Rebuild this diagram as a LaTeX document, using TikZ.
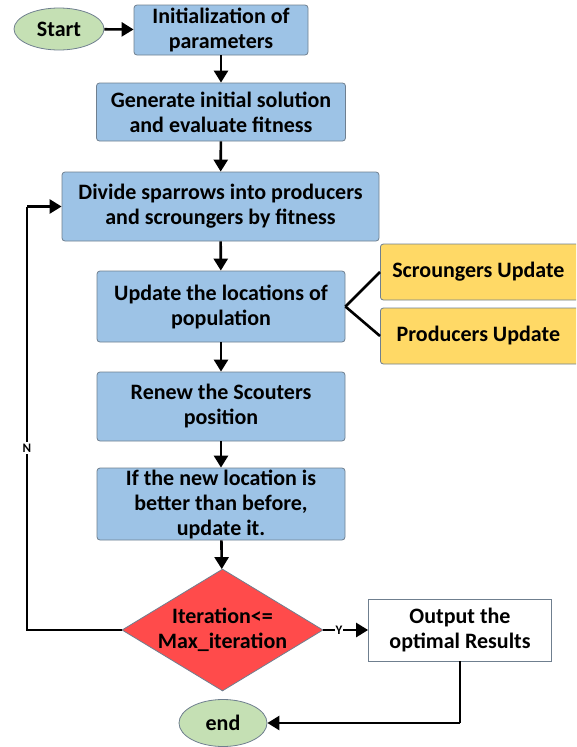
\documentclass[tikz,border=0pt]{standalone}
\usepackage{fontspec}
\setmainfont{Carlito}
\usetikzlibrary{arrows.meta,shapes.geometric}
\definecolor{boxblue}{HTML}{9DC3E6}
\definecolor{boxyellow}{HTML}{FFD966}
\definecolor{dred}{HTML}{FF4B4B}
\definecolor{egreen}{HTML}{C5E0B4}
\definecolor{edgegray}{HTML}{6F7F8F}
\begin{document}
\begin{tikzpicture}[x=1pt,y=-1pt,
  txt/.style={font=\bfseries\fontsize{22}{25}\selectfont, align=center, text=black},
  bbox/.style={txt, draw=edgegray, line width=0.8pt, fill=boxblue, rounded corners=3pt, inner sep=0pt},
  ybox/.style={txt, draw=edgegray, line width=0.8pt, fill=boxyellow, rounded corners=3pt, inner sep=0pt},
  ell/.style={txt, ellipse, draw=edgegray, line width=0.8pt, fill=egreen, inner sep=0pt},
  arr/.style={line width=2.6pt, -{Triangle[length=12pt,width=14pt]}},
  ln/.style={line width=2.6pt},
  lbl/.style={fill=white, inner sep=1.5pt, font=\bfseries\fontsize{13}{14}\selectfont}]
\useasboundingbox (0,0) rectangle (576,747);
\clip (0,0) rectangle (576,747);
\node[ell, minimum width=90pt, minimum height=42pt] (start) at (59,29) {Start};
\node[bbox, minimum width=174pt, minimum height=50pt] (init) at (221,30) {Initialization of\\parameters};
\node[bbox, minimum width=249pt, minimum height=58pt] (gen) at (221,112) {Generate initial solution\\and evaluate fitness};
\node[bbox, minimum width=317pt, minimum height=69pt] (div) at (220.5,206.5) {Divide sparrows into producers\\and scroungers by fitness};
\node[bbox, minimum width=248pt, minimum height=71pt] (upd) at (221,306.5) {Update the locations of\\population};
\node[ybox, minimum width=200pt, minimum height=56pt, anchor=west] (scr) at (380,272) {\hspace*{-4pt}Scroungers Update};
\node[ybox, minimum width=200pt, minimum height=56pt, anchor=west] (prod) at (380,336) {\hspace*{-4pt}Producers Update};
\node[bbox, minimum width=248pt, minimum height=69pt] (ren) at (221,406.5) {Renew the Scouters\\position};
\node[bbox, minimum width=248pt, minimum height=72pt] (ifn) at (221,504) {If the new location is\\better than before,\\update it.};
\node[txt, diamond, draw=edgegray, line width=0.8pt, fill=dred, minimum width=195pt, minimum height=118pt, inner sep=0pt, aspect=1.65] (dec) at (222.5,630) {Iteration<=\\Max\_iteration};
\node[txt, draw=edgegray, line width=0.8pt, fill=white, minimum width=183pt, minimum height=62pt, inner sep=0pt] (out) at (460,630) {Output the\\optimal Results};
\node[ell, minimum width=88pt, minimum height=47pt] (end) at (223,723) {end};
\coordinate (loopb) at (27,630);
\coordinate (loopt) at (27,206.5);
\coordinate (outc) at (460,723);

\draw[arr] (start) -- (init);
\draw[arr] (init) -- (gen);
\draw[arr] (gen) -- (div);
\draw[arr] (div) -- (upd);
\draw[arr] (upd) -- (ren);
\draw[arr] (ren) -- (ifn);
\draw[arr] (ifn) -- (dec);
\draw[ln] (upd.east) -- (scr.west);
\draw[ln] (upd.east) -- (prod.west);
\draw[ln] (dec.west) -- (loopb) -- (loopt) node[lbl, pos=0.43] {N};
\draw[arr] (loopt) -- (div.west);
\draw[arr] (dec.east) -- (out.west) node[lbl, pos=0.35, inner sep=1pt] {Y};
\draw[ln] (out.south) -- (outc);
\draw[arr] (outc) -- (end.east);
\end{tikzpicture}
\end{document}
